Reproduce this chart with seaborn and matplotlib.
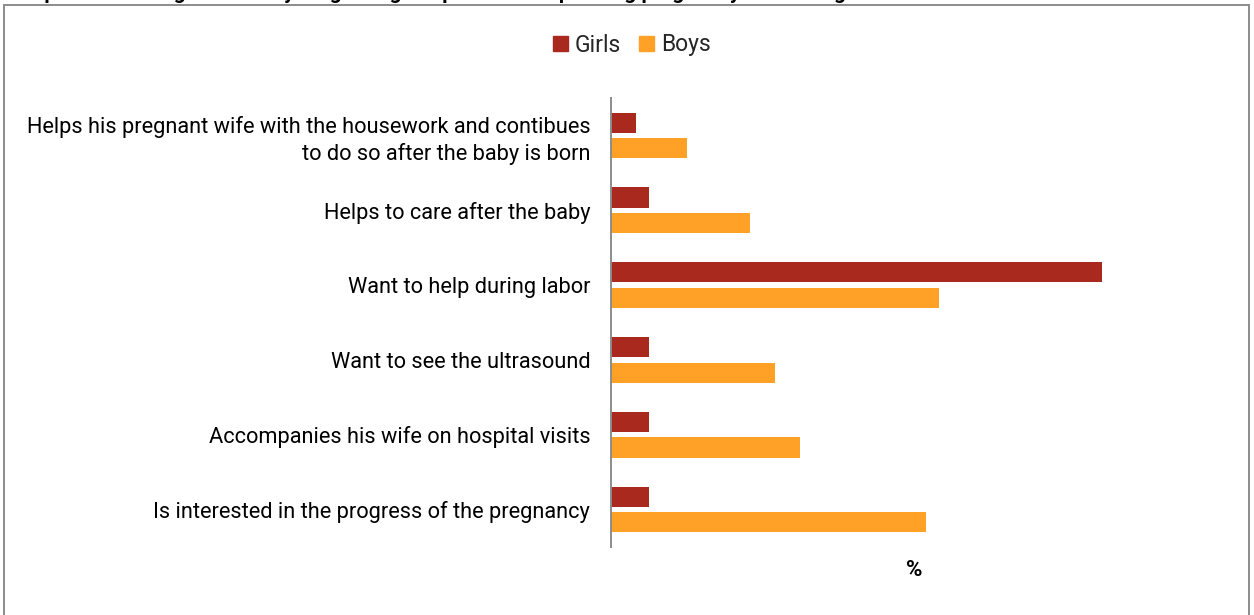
import matplotlib
matplotlib.use("Agg")
import matplotlib.pyplot as plt
import matplotlib.patches as mpatches
import seaborn as sns
import pandas as pd

# Data
categories = [
    "Helps his pregnant wife with the housework and contibues\nto do so after the baby is born",
    "Helps to care after the baby",
    "Want to help during labor",
    "Want to see the ultrasound",
    "Accompanies his wife on hospital visits",
    "Is interested in the progress of the pregnancy",
]
girls = [2, 3, 39, 3, 3, 3]
boys = [6, 11, 26, 13, 15, 25]
series_names = ["Girls", "Boys"]
colors = {"Girls": "#A9291F", "Boys": "#FEA126"}
title_text = ("Expectations of girls and boys regarding the partner's help "
              "during pregnancy and during the birth")

df = pd.DataFrame({
    "category": categories * 2,
    "value": girls + boys,
    "group": [series_names[0]] * len(categories) + [series_names[1]] * len(categories),
})

sns.set_theme(style="white")
plt.rcParams["font.family"] = ["Roboto", "DejaVu Sans"]

W, H = 1254, 615
fig = plt.figure(figsize=(W / 100, H / 100), dpi=100)
ax_left, ax_right, ax_top, ax_bottom = 611, 1218, 98, 547
ax = fig.add_axes([ax_left / W, 1 - ax_bottom / H,
                   (ax_right - ax_left) / W, (ax_bottom - ax_top) / H])

sns.barplot(data=df, y="category", x="value", hue="group", orient="h",
            order=categories, hue_order=series_names, palette=colors,
            saturation=1, width=0.68, gap=0.21, ax=ax, legend=False,
            linewidth=0)

ax.set_xlim(0, (ax_right - ax_left) / 12.6)
ax.set_ylim(5.5, -0.5)
for s in ["top", "right", "bottom"]:
    ax.spines[s].set_visible(False)
ax.spines["left"].set_color("#8C8C8C")
ax.spines["left"].set_linewidth(1.4)
ax.set_xticks([])
ax.tick_params(axis="y", length=0, pad=15, labelsize=15.7, labelcolor="#000000")
for lab in ax.get_yticklabels():
    lab.set_horizontalalignment("right")
    lab.set_linespacing(1.3)
ax.set_ylabel("")
ax.set_xlabel("%", fontsize=16, fontweight="bold", labelpad=9, color="#000000")

# legend
handles = [mpatches.Patch(color=colors[n], label=n) for n in series_names]
fig.legend(handles=handles, loc="center", bbox_to_anchor=(632 / W, 1 - 45 / H),
           ncol=2, frameon=False, fontsize=16.5, handlelength=0.65,
           handleheight=0.65, handletextpad=0.3, columnspacing=0.8,
           borderpad=0)

# outer chart border
fig.add_artist(mpatches.Rectangle((4 / W, -0.1), (1249 - 4) / W, 1.1 - 5 / H,
                                  transform=fig.transFigure, fill=False,
                                  edgecolor="#8C8C8C", linewidth=1.4,
                                  clip_on=False))

# title
fig.text(22 / W, 1 + 1 / H, title_text, ha="left", va="baseline",
         fontsize=15, fontweight="bold", color="#000000")

fig.savefig("out.png", dpi=100, facecolor="white")
